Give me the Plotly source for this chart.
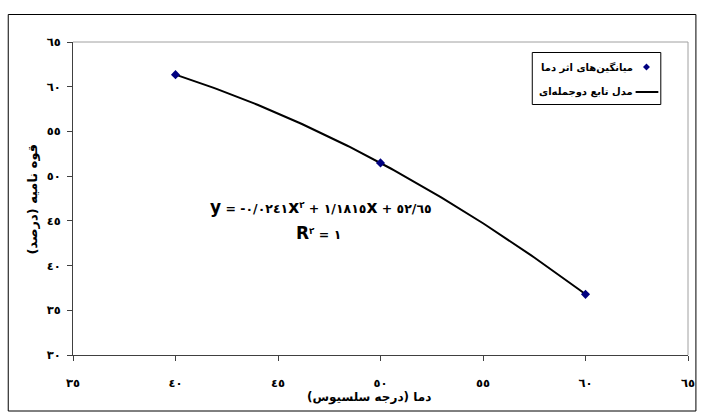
import numpy as np
import plotly.graph_objects as go

# Germination data: temperature (°C) vs. mean germination power (%)
temperature = [40, 50, 60]
germination_mean = [61.35, 51.48, 36.78]

# Quadratic model coefficients (a*x^2 + b*x + c) and its R^2
model_coef = [-0.0241, 1.1815, 52.65]
model_r2 = 1

x_ticks = [35, 40, 45, 50, 55, 60, 65]
x_tick_text = ["٣٥", "٤٠", "٤٥", "٥٠", "٥٥", "٦٠", "٦٥"]
y_ticks = [30, 35, 40, 45, 50, 55, 60, 65]
y_tick_text = ["٣٠", "٣٥", "٤٠", "٤٥", "٥٠", "٥٥", "٦٠", "٦٥"]

series_points = "میانگین‌های اثر دما"
series_model = "مدل تابع دوجمله‌ای"
x_title = "دما (درجه سلسیوس)"
y_title = "قوه نامیه (درصد)"

W, H = 704, 413
L, R, T, B = 73, 695, 42, 355
FONT = "DejaVu Sans"
LRM, RLE, PDF = "\u200e", "\u202b", "\u202c"


def px(x):
    return (x - L) / (R - L)


def py(y):
    return (B - y) / (B - T)


def rtl(s):
    return RLE + s + PDF


curve_x = np.linspace(min(temperature), max(temperature), 121)
curve_y = np.polyval(model_coef, curve_x)

fig = go.Figure()
fig.add_trace(go.Scatter(
    x=curve_x, y=curve_y, mode="lines",
    line=dict(color="black", width=2), showlegend=False, hoverinfo="skip",
))
fig.add_trace(go.Scatter(
    x=temperature, y=germination_mean, mode="markers",
    marker=dict(symbol="diamond", size=7, color="#000080"),
    showlegend=False,
))

axis_font = dict(family=FONT, size=11.5, color="black", weight="bold")
fig.update_xaxes(
    range=[35, 65], tickvals=x_ticks, ticktext=x_tick_text,
    showgrid=False, zeroline=False, showline=True, linecolor="#404040", linewidth=1,
    ticks="outside", ticklen=5, tickcolor="#404040", tickfont=axis_font,
    ticklabelstandoff=12,
)
fig.update_yaxes(
    range=[30, 65], tickvals=y_ticks, ticktext=y_tick_text,
    showgrid=False, zeroline=False, showline=True, linecolor="#404040", linewidth=1,
    ticks="outside", ticklen=5, tickcolor="#404040", tickfont=axis_font,
    ticklabelstandoff=4,
)

shapes = []
# plot-area frame (top and right edges)
shapes.append(dict(type="line", xref="paper", yref="paper", x0=0, x1=1, y0=1, y1=1,
                   line=dict(color="#a0a0a0", width=1)))
shapes.append(dict(type="line", xref="paper", yref="paper", x0=1, x1=1, y0=0, y1=1,
                   line=dict(color="#a0a0a0", width=1)))
# outer chart border
shapes.append(dict(type="rect", xref="paper", yref="paper",
                   x0=px(7.5), x1=px(703), y0=py(411), y1=py(14.5),
                   line=dict(color="black", width=1), layer="below"))
# legend box
shapes.append(dict(type="rect", xref="paper", yref="paper",
                   x0=px(537.5), x1=px(667.5), y0=py(104.5), y1=py(52.5),
                   line=dict(color="black", width=1), fillcolor="white"))
# legend symbols
cx, cy, d = 653, 67, 3.5
shapes.append(dict(type="path", xref="paper", yref="paper",
                   path=(f"M {px(cx)} {py(cy - d)} L {px(cx + d)} {py(cy)} "
                         f"L {px(cx)} {py(cy + d)} L {px(cx - d)} {py(cy)} Z"),
                   fillcolor="#000080", line=dict(color="#000080", width=0)))
shapes.append(dict(type="line", xref="paper", yref="paper",
                   x0=px(642), x1=px(665), y0=py(92), y1=py(92),
                   line=dict(color="black", width=2)))

legend_font = dict(family=FONT, size=10, color="black", weight="bold")
annotations = [
    dict(text=rtl(series_points), x=px(641), y=py(67), xanchor="right", yanchor="middle",
         xref="paper", yref="paper", showarrow=False, font=legend_font),
    dict(text=rtl(series_model), x=px(641), y=py(92), xanchor="right", yanchor="middle",
         xref="paper", yref="paper", showarrow=False, font=legend_font),
    dict(text=rtl(x_title), x=px(372), y=py(397), xanchor="center", yanchor="middle",
         xref="paper", yref="paper", showarrow=False,
         font=dict(family=FONT, size=12, color="black", weight="bold")),
    dict(text=rtl(y_title), x=px(32), y=py(199), xanchor="center", yanchor="middle", textangle=-90,
         xref="paper", yref="paper", showarrow=False,
         font=dict(family=FONT, size=13, color="black", weight="bold")),
]


def arabic_digits(s):
    return LRM + s.translate(str.maketrans("0123456789.", "٠١٢٣٤٥٦٧٨٩/")) + LRM


a, b, c = model_coef
big = '<span style="font-size:17px">{}</span>'
sq = "<sup>" + arabic_digits("2") + "</sup>"
eq = (big.format("<b>y</b>") + " = "
      + "-" + arabic_digits(f"{abs(a):.4f}") + big.format("<b>x</b>") + sq
      + " + " + arabic_digits(f"{b:.4f}") + big.format("<b>x</b>")
      + " + " + arabic_digits(f"{c:.2f}"))
r2 = big.format("<b>R</b>") + sq + " = " + arabic_digits(str(model_r2))
eq_font = dict(family=FONT, size=12.5, color="black", weight="bold")
annotations.append(dict(text=eq, x=px(324), y=py(207), xanchor="center", yanchor="middle",
                        xref="paper", yref="paper", showarrow=False, font=eq_font))
annotations.append(dict(text=r2, x=px(321), y=py(233), xanchor="center", yanchor="middle",
                        xref="paper", yref="paper", showarrow=False, font=eq_font))

fig.update_layout(
    width=W, height=H,
    margin=dict(l=L, r=W - R, t=T, b=H - B),
    paper_bgcolor="white", plot_bgcolor="white",
    showlegend=False, shapes=shapes, annotations=annotations,
    font=dict(family=FONT),
)

fig.write_html("out.html")
